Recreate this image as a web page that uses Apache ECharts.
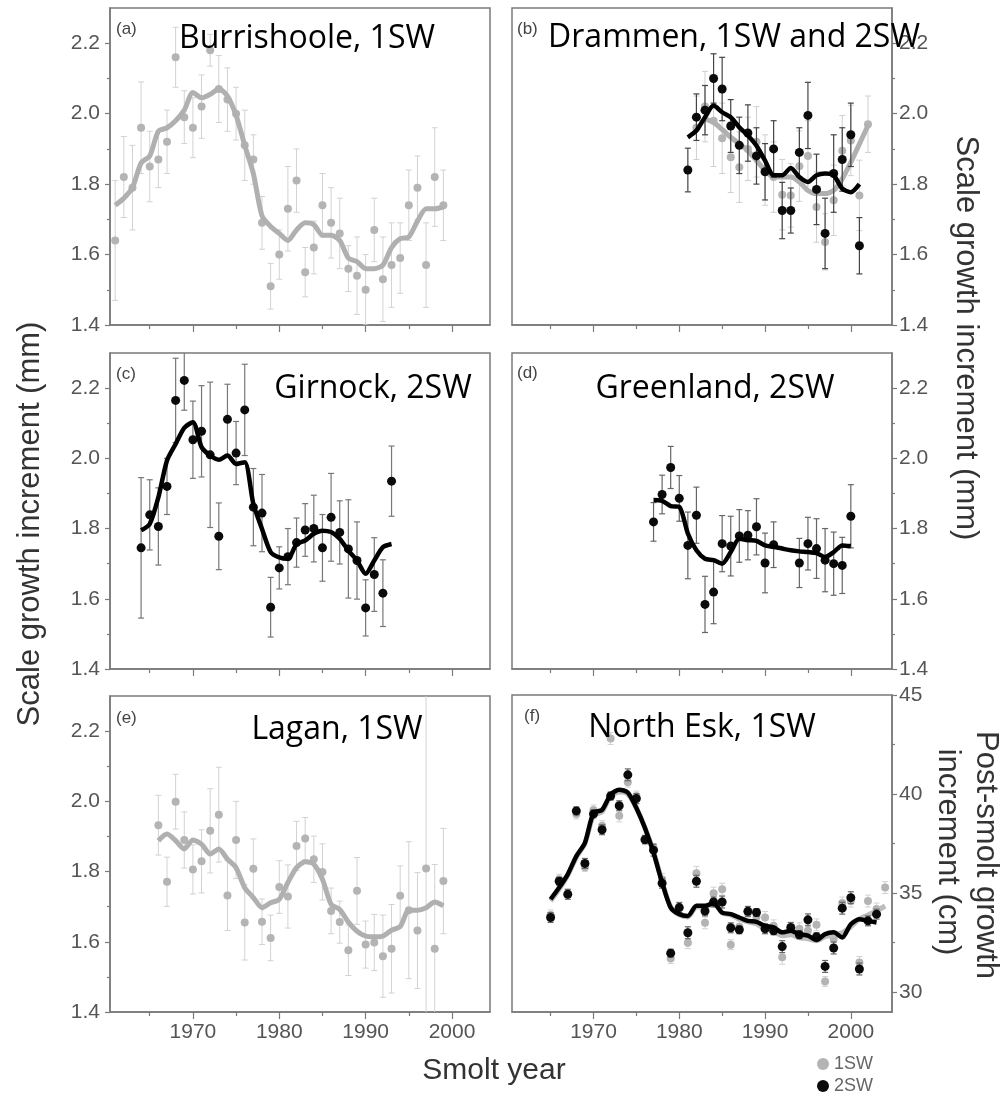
<!DOCTYPE html>
<html><head><meta charset="utf-8">
<script src="https://cdn.jsdelivr.net/npm/echarts@6/dist/echarts.min.js"></script>
<style>html,body{margin:0;padding:0;background:#fff}#c{width:1005px;height:1103px}</style>
</head><body><div id="c"></div>
<script>
// ---------- tick labels ----------
const yearTicks = [1970, 1980, 1990, 2000];
const yearMinorTicks = [1965, 1975, 1985, 1995];
const mmTicks = [1.4, 1.6, 1.8, 2.0, 2.2];
const mmMinorTicks = [1.5, 1.7, 1.9, 2.1];
const cmTicks = [30, 35, 40, 45];
const cmMinorTicks = [32.5, 37.5, 42.5];

// ---------- (a) Burrishoole, 1SW ----------
const burrYears = [1961,1962,1963,1964,1965,1966,1967,1968,1969,1970,1971,1972,1973,1974,1975,1976,1977,1978,1979,1980,1981,1982,1983,1984,1985,1986,1987,1988,1989,1990,1991,1992,1993,1994,1995,1996,1997,1998,1999];
const burrMean = [1.64,1.82,1.79,1.96,1.85,1.87,1.92,2.16,1.99,1.96,2.02,2.18,2.07,2.04,2.00,1.91,1.87,1.69,1.51,1.60,1.73,1.81,1.55,1.62,1.74,1.69,1.66,1.56,1.54,1.50,1.67,1.53,1.57,1.59,1.74,1.79,1.57,1.82,1.74];
const burrErr = [0.17,0.115,0.12,0.13,0.1,0.08,0.09,0.085,0.075,0.085,0.09,0.045,0.095,0.09,0.075,0.1,0.07,0.075,0.065,0.07,0.12,0.09,0.07,0.075,0.09,0.1,0.1,0.065,0.11,0.1,0.09,0.12,0.12,0.1,0.1,0.09,0.12,0.14,0.1];
const burrSmooth = [1.74,1.76,1.79,1.86,1.88,1.95,1.96,1.98,2.01,2.06,2.045,2.055,2.07,2.05,1.995,1.91,1.83,1.71,1.68,1.66,1.64,1.67,1.69,1.685,1.655,1.655,1.64,1.59,1.58,1.56,1.56,1.57,1.62,1.645,1.65,1.695,1.73,1.73,1.735];

// ---------- (b) Drammen, 1SW and 2SW ----------
const dramYears = [1981,1982,1983,1984,1985,1986,1987,1988,1989,1990,1991,1992,1993,1994,1995,1996,1997,1998,1999,2000,2001,2002];
const dram2Mean = [1.84,1.99,2.01,2.10,2.07,1.965,1.91,1.945,1.88,1.835,1.90,1.725,1.725,1.89,1.995,1.785,1.66,1.83,1.87,1.94,1.625,null];
const dram2Err = [0.062,0.066,0.07,0.07,0.09,0.075,0.08,0.08,0.08,0.08,0.08,0.08,0.064,0.07,0.094,0.1,0.1,0.11,0.09,0.09,0.08,null];
const dram2Smooth = [1.933,1.952,1.99,2.023,2.004,1.99,1.961,1.938,1.909,1.867,1.825,1.825,1.846,1.82,1.806,1.825,1.83,1.825,1.787,1.777,1.80,null];
const dram1Mean = [null,1.96,2.02,1.98,1.93,1.876,1.848,1.90,1.92,1.84,1.82,1.77,1.768,1.851,1.88,1.735,1.636,1.754,1.895,1.924,1.768,1.97];
const dram1Err = [null,0.09,0.1,0.13,0.1,0.1,0.1,0.09,0.1,0.1,0.1,0.1,0.09,0.1,0.1,0.1,0.08,0.1,0.1,0.1,0.1,0.08];
const dram1Smooth = [null,null,1.985,1.975,1.955,1.933,1.914,1.895,1.867,1.839,1.82,1.82,1.82,1.806,1.782,1.773,1.773,1.782,1.815,1.862,1.914,1.966];

// ---------- (c) Girnock, 2SW ----------
const girnYears = [1964,1965,1966,1967,1968,1969,1970,1971,1972,1973,1974,1975,1976,1977,1978,1979,1980,1981,1982,1983,1984,1985,1986,1987,1988,1989,1990,1991,1992,1993];
const girnMean = [1.745,1.839,1.806,1.92,2.165,2.222,2.053,2.077,2.01,1.778,2.111,2.015,2.138,1.861,1.844,1.576,1.688,1.72,1.76,1.796,1.80,1.745,1.832,1.789,1.742,1.709,1.574,1.669,1.616,1.935];
const girnErr = [0.2,0.1,0.11,0.08,0.12,0.085,0.11,0.13,0.207,0.095,0.1,0.09,0.13,0.11,0.11,0.085,0.06,0.08,0.07,0.075,0.095,0.095,0.125,0.09,0.14,0.11,0.08,0.105,0.095,0.1];
const girnSmooth = [1.795,1.813,1.889,1.994,2.041,2.087,2.103,2.032,2.008,1.996,2.008,1.984,1.989,1.87,1.799,1.733,1.718,1.714,1.756,1.766,1.785,1.794,1.79,1.771,1.737,1.709,1.671,1.709,1.747,1.756];

// ---------- (d) Greenland, 2SW ----------
const greenYears = [1977,1978,1979,1980,1981,1982,1983,1984,1985,1986,1987,1988,1989,1990,1991,1992,1993,1994,1995,1996,1997,1998,1999,2000];
const greenMean = [1.819,1.897,1.974,1.886,1.752,1.838,1.584,1.619,1.757,1.75,1.779,1.781,1.805,1.702,1.754,null,null,1.702,1.757,1.743,1.71,1.70,1.695,1.835];
const greenErr = [0.055,0.055,0.06,0.065,0.095,0.08,0.08,0.09,0.08,0.085,0.075,0.07,0.08,0.085,0.065,null,null,0.07,0.075,0.085,0.09,0.09,0.08,0.09];
const greenSmooth = [1.881,1.879,1.864,1.862,1.786,1.738,1.714,1.71,1.70,1.733,1.771,1.767,1.765,1.752,1.748,1.743,1.738,1.735,1.733,1.73,1.719,1.733,1.752,1.75];

// ---------- (e) Lagan, 1SW ----------
const laganYears = [1966,1967,1968,1969,1970,1971,1972,1973,1974,1975,1976,1977,1978,1979,1980,1981,1982,1983,1984,1985,1986,1987,1988,1989,1990,1991,1992,1993,1994,1995,1996,1997,1998,1999];
const laganMean = [1.932,1.771,1.999,1.89,1.806,1.829,1.916,1.962,1.732,1.89,1.655,1.808,1.657,1.611,1.756,1.729,1.873,1.894,1.835,1.799,1.688,1.656,1.576,1.745,1.592,1.598,1.559,1.58,1.731,1.69,1.632,1.809,1.58,1.773];
const laganErr = [0.085,0.07,0.078,0.08,0.07,0.09,0.12,0.135,0.1,0.11,0.107,0.085,0.065,0.065,0.075,0.09,0.07,0.06,0.066,0.08,0.065,0.06,0.072,0.095,0.067,0.08,0.117,0.126,0.085,0.195,0.165,0.55,0.24,0.15];
const laganSmooth = [1.888,1.907,1.888,1.864,1.89,1.878,1.85,1.864,1.835,1.811,1.754,1.726,1.697,1.711,1.721,1.769,1.811,1.828,1.821,1.778,1.707,1.692,1.656,1.63,1.616,1.614,1.616,1.633,1.643,1.69,1.69,1.697,1.713,1.702];

// ---------- (f) North Esk (cm) ----------
const eskYears = [1965,1966,1967,1968,1969,1970,1971,1972,1973,1974,1975,1976,1977,1978,1979,1980,1981,1982,1983,1984,1985,1986,1987,1988,1989,1990,1991,1992,1993,1994,1995,1996,1997,1998,1999,2000,2001,2002,2003,2004];
const esk2Mean = [33.77,35.6,34.94,39.15,36.5,39.0,38.2,39.9,39.41,40.97,39.77,37.7,37.17,35.5,31.97,34.27,33.0,35.6,34.1,34.55,34.55,33.25,33.15,34.08,34.02,33.2,33.1,32.3,33.27,32.9,33.65,32.8,31.3,32.23,34.24,34.77,31.17,33.6,33.94,null];
const esk2Err = [0.25,0.2,0.25,0.2,0.25,0.2,0.25,0.2,0.25,0.3,0.25,0.2,0.3,0.25,0.2,0.25,0.3,0.3,0.25,0.25,0.3,0.25,0.2,0.25,0.2,0.25,0.2,0.3,0.25,0.2,0.3,0.2,0.3,0.3,0.3,0.3,0.3,0.25,0.25,null];
const esk2Smooth = [34.69,35.28,35.95,36.87,37.54,39.05,39.2,39.97,40.22,40.08,39.3,38.29,37.04,35.53,34.27,33.94,33.85,34.36,34.36,34.49,34.02,33.94,33.77,33.6,33.55,33.35,33.27,33.02,33.1,32.93,32.85,32.63,32.93,33.02,32.76,33.43,33.68,33.6,33.52,null];
const esk1Mean = [33.9,35.7,35.0,39.0,36.3,39.2,38.4,42.8,38.9,40.6,39.9,37.7,37.3,35.7,31.7,34.3,32.5,36.0,33.5,35.0,35.2,32.4,33.3,34.0,33.8,33.77,33.35,31.76,33.2,33.2,33.1,33.4,30.54,32.68,34.5,34.6,31.5,34.6,34.2,35.28];
const esk1Err = [0.25,0.25,0.2,0.25,0.2,0.25,0.25,0.3,0.3,0.25,0.25,0.25,0.2,0.3,0.25,0.25,0.3,0.35,0.3,0.3,0.3,0.25,0.3,0.25,0.25,0.3,0.3,0.35,0.3,0.3,0.3,0.3,0.25,0.3,0.3,0.3,0.3,0.3,0.3,0.3];
const esk1Smooth = [34.6,35.2,35.9,36.8,37.5,38.9,39.1,39.9,40.1,40.0,39.3,38.3,37.1,35.6,34.3,33.9,33.8,34.3,34.3,34.5,34.0,33.9,33.7,33.55,33.45,33.2,33.1,32.85,32.9,32.75,32.7,32.6,32.8,32.9,33.0,33.3,33.7,33.9,34.1,34.35];

// ---------- helpers ----------
const AX = '#7a7a7a', LAB = '#555';
const FONT = '"Liberation Sans", Arial, sans-serif';
const GRAY = '#b4b4b4', BLACK = '#0a0a0a';

function pts(years, vals) {
  const out = [];
  years.forEach((y, i) => { if (vals[i] != null) out.push([y, vals[i]]); });
  return out;
}
function bars(years, vals, errs) {
  const out = [];
  years.forEach((y, i) => { if (vals[i] != null) out.push([y, vals[i] - errs[i], vals[i] + errs[i]]); });
  return out;
}
function errRender(color, width, cap) {
  return function (params, api) {
    const x = api.value(0), lo = api.value(1), hi = api.value(2);
    const p1 = api.coord([x, lo]), p2 = api.coord([x, hi]);
    const st = { stroke: color, lineWidth: width };
    return { type: 'group', children: [
      { type: 'line', shape: { x1: p1[0], y1: p1[1], x2: p2[0], y2: p2[1] }, style: st },
      { type: 'line', shape: { x1: p1[0] - cap, y1: p1[1], x2: p1[0] + cap, y2: p1[1] }, style: st },
      { type: 'line', shape: { x1: p2[0] - cap, y1: p2[1], x2: p2[0] + cap, y2: p2[1] }, style: st }
    ]};
  };
}

const grids = [
  { left: 110, top: 8, width: 380, height: 317 },
  { left: 512, top: 8, width: 380, height: 317 },
  { left: 110, top: 353, width: 380, height: 316 },
  { left: 512, top: 353, width: 380, height: 316 },
  { left: 110, top: 696, width: 380, height: 316 },
  { left: 512, top: 695, width: 380, height: 317 }
].map(g => Object.assign({ show: true, borderColor: AX, borderWidth: 1.5, backgroundColor: 'transparent' }, g));

const xAxis = [], yAxis = [], series = [];
function addAxes(gi, xr, yr, yPos, showX, majY, minY, fmt) {
  xAxis.push({ type: 'value', gridIndex: gi, min: xr[0], max: xr[1], position: 'bottom',
    axisLine: { show: true, onZero: false, lineStyle: { color: AX, width: 1.5 } },
    axisTick: { show: true, length: 7, customValues: yearTicks, lineStyle: { color: AX, width: 1.2 } },
    axisLabel: { show: showX, customValues: yearTicks, fontSize: 21, color: LAB, fontFamily: FONT, margin: 10,
      formatter: v => String(Math.round(v)) },
    splitLine: { show: false } });
  xAxis.push({ type: 'value', gridIndex: gi, min: xr[0], max: xr[1], position: 'bottom',
    axisLine: { show: false, onZero: false },
    axisTick: { show: true, length: 4, customValues: yearMinorTicks, lineStyle: { color: AX, width: 1.2 } },
    axisLabel: { show: false }, splitLine: { show: false } });
  yAxis.push({ type: 'value', gridIndex: gi, min: yr[0], max: yr[1], position: yPos,
    axisLine: { show: true, onZero: false, lineStyle: { color: AX, width: 1.5 } },
    axisTick: { show: true, length: 5, customValues: majY, lineStyle: { color: AX, width: 1.2 } },
    axisLabel: { show: true, customValues: majY, fontSize: 21, color: LAB, fontFamily: FONT, margin: yPos === 'left' ? 10 : 7, formatter: fmt },
    splitLine: { show: false } });
  yAxis.push({ type: 'value', gridIndex: gi, min: yr[0], max: yr[1], position: yPos,
    axisLine: { show: false, onZero: false },
    axisTick: { show: true, length: 3, customValues: minY, lineStyle: { color: AX, width: 1.2 } },
    axisLabel: { show: false }, splitLine: { show: false } });
}
function addGroup(gi, name, years, mean, err, smooth, o) {
  const xi = 2 * gi, yi = 2 * gi;
  series.push({ type: 'custom', name: name + ' err', xAxisIndex: xi, yAxisIndex: yi, clip: true,
    renderItem: errRender(o.errColor, o.errWidth, o.cap), encode: { x: 0, y: [1, 2] },
    data: bars(years, mean, err), z: o.z, silent: true });
  series.push({ type: 'scatter', name: name, xAxisIndex: xi, yAxisIndex: yi, data: pts(years, mean),
    symbol: 'circle', symbolSize: o.size, itemStyle: { color: o.color, opacity: 1 }, z: o.z + 1, silent: true });
  series.push({ type: 'line', name: name + ' fit', xAxisIndex: xi, yAxisIndex: yi, data: pts(years, smooth),
    showSymbol: false, smooth: 0.25, lineStyle: { color: o.lineColor, width: o.lineWidth }, z: o.z + 2, silent: true });
}
const fmt1 = v => Number(v).toFixed(1);
const fmt0 = v => String(Math.round(v));
const xrL = [1960.4, 2004.4], xrR = [1960.5, 2004.8];

addAxes(0, xrL, [1.4, 2.3], 'left', false, mmTicks, mmMinorTicks, fmt1);
addAxes(1, xrR, [1.4, 2.3], 'right', false, mmTicks, mmMinorTicks, fmt1);
addAxes(2, xrL, [1.4, 2.3], 'left', false, mmTicks, mmMinorTicks, fmt1);
addAxes(3, xrR, [1.4, 2.3], 'right', false, mmTicks, mmMinorTicks, fmt1);
addAxes(4, xrL, [1.4, 2.3], 'left', true, mmTicks, mmMinorTicks, fmt1);
addAxes(5, xrR, [29, 45], 'right', true, cmTicks, cmMinorTicks, fmt0);

const grayStyle = { errColor: '#d2d2d2', errWidth: 1, cap: 3, size: 8, color: GRAY, lineColor: '#b0b0b0', lineWidth: 5, z: 2 };
const blackStyle = { errColor: '#444', errWidth: 1.2, cap: 3, size: 9, color: BLACK, lineColor: '#000', lineWidth: 4.5, z: 10 };

addGroup(0, '1SW', burrYears, burrMean, burrErr, burrSmooth, grayStyle);
addGroup(1, '1SW', dramYears, dram1Mean, dram1Err, dram1Smooth, Object.assign({}, grayStyle, { errColor: '#cfcfcf' }));
addGroup(1, '2SW', dramYears, dram2Mean, dram2Err, dram2Smooth, blackStyle);
addGroup(2, '2SW', girnYears, girnMean, girnErr, girnSmooth, Object.assign({}, blackStyle, { errColor: '#777' }));
addGroup(3, '2SW', greenYears, greenMean, greenErr, greenSmooth, Object.assign({}, blackStyle, { errColor: '#666' }));
addGroup(4, '1SW', laganYears, laganMean, laganErr, laganSmooth, grayStyle);
addGroup(5, '1SW', eskYears, esk1Mean, esk1Err, esk1Smooth, Object.assign({}, grayStyle, { lineColor: '#bdbdbd' }));
addGroup(5, '2SW', eskYears, esk2Mean, esk2Err, esk2Smooth, Object.assign({}, blackStyle, { errColor: '#666' }));

// ---------- text ----------
const titles = [
  ['Burrishoole, 1SW', 307, 39], ['Drammen, 1SW and 2SW', 734, 38],
  ['Girnock, 2SW', 373, 389], ['Greenland, 2SW', 715, 389],
  ['Lagan, 1SW', 337, 730], ['North Esk, 1SW', 702, 728]
];
const letters = [['(a)', 116, 29], ['(b)', 517, 29], ['(c)', 116, 374], ['(d)', 517, 373], ['(e)', 116, 718], ['(f)', 524, 716]];
const graphic = [];
titles.forEach(t => graphic.push({ type: 'text', x: t[1], y: t[2], z: 100,
  style: { text: t[0], fill: '#000', font: '32px "Open Sans", sans-serif', textAlign: 'center', textVerticalAlign: 'middle' } }));
letters.forEach(t => graphic.push({ type: 'text', x: t[1], y: t[2], z: 100,
  style: { text: t[0], fill: '#444', font: '17px ' + FONT, textAlign: 'left', textVerticalAlign: 'middle' } }));
const axisTitleFont = '31px ' + FONT;
graphic.push({ type: 'text', x: 30, y: 524, rotation: Math.PI / 2,
  style: { text: 'Scale growth increment (mm)', fill: '#333', font: axisTitleFont, textAlign: 'center', textVerticalAlign: 'middle' } });
graphic.push({ type: 'text', x: 966, y: 338, rotation: -Math.PI / 2,
  style: { text: 'Scale growth increment (mm)', fill: '#333', font: axisTitleFont, textAlign: 'center', textVerticalAlign: 'middle' } });
graphic.push({ type: 'text', x: 986, y: 855, rotation: -Math.PI / 2,
  style: { text: 'Post-smolt growth', fill: '#333', font: axisTitleFont, textAlign: 'center', textVerticalAlign: 'middle' } });
graphic.push({ type: 'text', x: 948, y: 852, rotation: -Math.PI / 2,
  style: { text: 'increment (cm)', fill: '#333', font: axisTitleFont, textAlign: 'center', textVerticalAlign: 'middle' } });
graphic.push({ type: 'text', x: 494, y: 1071,
  style: { text: 'Smolt year', fill: '#333', font: '30px ' + FONT, textAlign: 'center', textVerticalAlign: 'middle' } });

const chart = echarts.init(document.getElementById('c'), null, { renderer: 'canvas' });
chart.setOption({
  animation: false,
  backgroundColor: '#fff',
  grid: grids, xAxis, yAxis, series, graphic,
  legend: { orient: 'vertical', left: 817, top: 1055, itemWidth: 12, itemHeight: 12, itemGap: 4, icon: 'circle',
    data: ['1SW', '2SW'], selectedMode: false, padding: 0,
    textStyle: { fontSize: 18, color: '#666', fontFamily: FONT } }
});
</script></body></html>
